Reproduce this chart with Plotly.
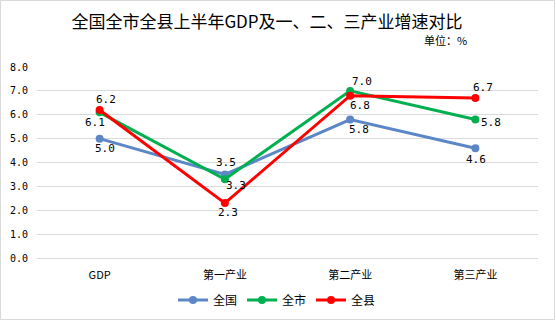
import plotly.graph_objects as go

categories = ["GDP", "第一产业", "第二产业", "第三产业"]
national = [5.0, 3.5, 5.8, 4.6]
city = [6.1, 3.3, 7.0, 5.8]
county = [6.2, 2.3, 6.8, 6.7]
y_ticks = [0, 1, 2, 3, 4, 5, 6, 7, 8]

CJK = "Noto Sans CJK SC"
MONO = "DejaVu Sans Mono"

# per-point label offsets in pixels (dx right, dy down)
series = [
    ("全国", national, "#5B87C7", [(5, 10), (1, -12), (9, 10), (1, 11)]),
    ("全市", city, "#00B050", [(-5, 10), (11, 6), (12, -9), (16, 3)]),
    ("全县", county, "#FF0000", [(6, -10), (3, 9), (10, 10), (8, -11)]),
]

fig = go.Figure()
annotations = []
for name, vals, color, offs in series:
    fig.add_trace(go.Scatter(
        x=categories, y=vals, name=name,
        mode="lines+markers",
        line=dict(color=color, width=3),
        marker=dict(color=color, size=8),
        cliponaxis=False,
    ))
    for cat, v, (dx, dy) in zip(categories, vals, offs):
        annotations.append(dict(
            x=cat, y=v, xref="x", yref="y", text=f"{v:.1f}", showarrow=False,
            xshift=dx, yshift=-dy, xanchor="center", yanchor="middle",
            font=dict(family=MONO, size=11, color="#000000")))

annotations.append(dict(text="单位：%", xref="paper", yref="paper",
                        x=(469 - 37) / 501, xanchor="right",
                        y=(258 - 40) / 191, yanchor="middle", showarrow=False,
                        font=dict(family=CJK, size=11, color="#000000")))

fig.update_layout(
    width=556, height=322,
    margin=dict(l=37, r=18, t=67, b=64, autoexpand=False),
    paper_bgcolor="white", plot_bgcolor="white",
    showlegend=True,
    legend=dict(orientation="h", x=(277 - 37) / 501, xanchor="center",
                y=(258 - 300) / 191, yanchor="middle",
                font=dict(family=CJK, size=12, color="#000000"),
                itemwidth=30, tracegroupgap=0),
    title=dict(text="全国全市全县上半年GDP及一、二、三产业增速对比",
               x=267 / 556, xanchor="center", y=1 - 22 / 322, yanchor="middle",
               font=dict(family=CJK, size=17, color="#000000")),
    xaxis=dict(type="category", range=[-0.5, 3.5],
               showgrid=False, showline=False, ticks="", ticklabelstandoff=9,
               tickfont=dict(family=CJK, size=11, color="#000000")),
    yaxis=dict(range=[0, 8], tickvals=y_ticks,
               ticktext=[f"{v:.1f}" for v in y_ticks],
               showgrid=True, gridcolor="#D9D9D9", gridwidth=1,
               zeroline=True, zerolinecolor="#D9D9D9", zerolinewidth=1,
               showline=False, ticks="", ticklabelstandoff=8,
               tickfont=dict(family=MONO, size=10, color="#000000")),
    annotations=annotations,
    shapes=[dict(type="rect", xref="paper", yref="paper",
                 x0=(0.5 - 37) / 501, x1=(554.5 - 37) / 501,
                 y0=(258 - 319.5) / 191, y1=(258 - 0.5) / 191,
                 line=dict(color="#D9D9D9", width=1), fillcolor="rgba(0,0,0,0)")],
)

fig.write_html("out.html")
